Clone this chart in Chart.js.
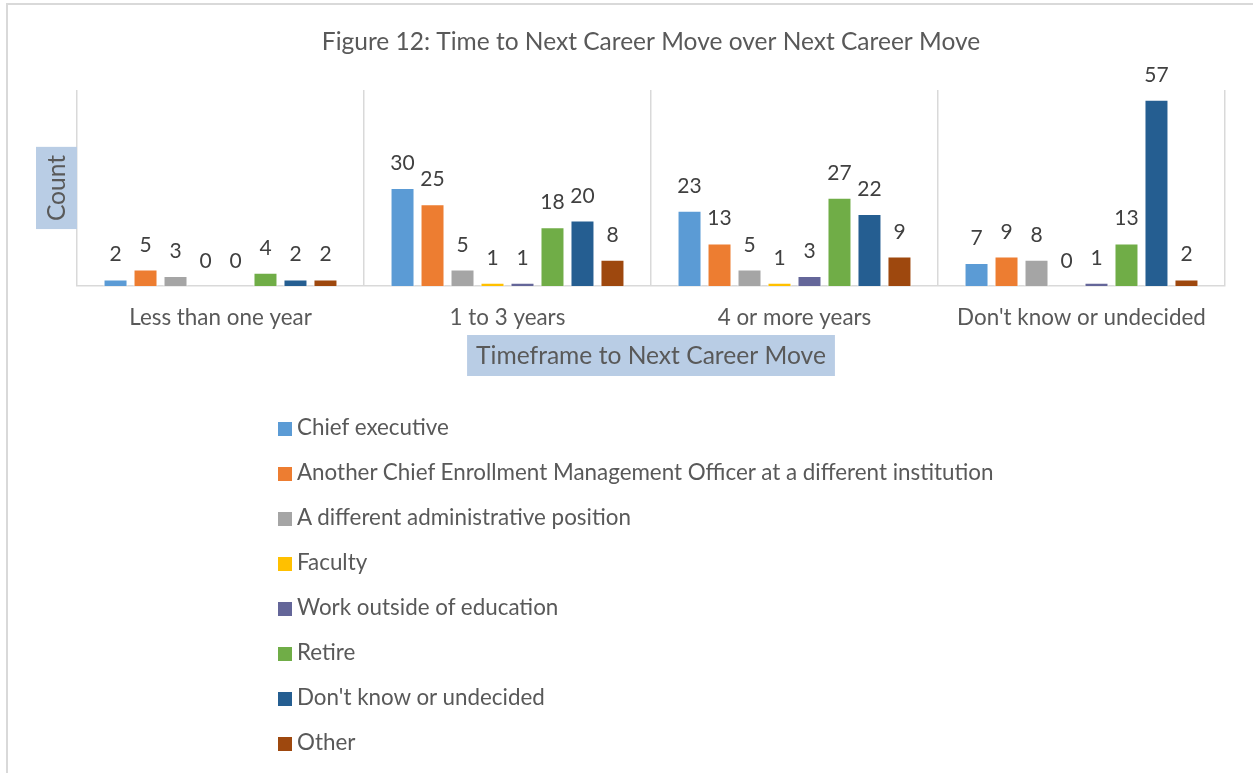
<!DOCTYPE html>
<html>
<head>
<meta charset="utf-8">
<script src="https://cdn.jsdelivr.net/npm/chart.js@4/dist/chart.umd.min.js"></script>
<style>
	html, body { margin: 0; padding: 0; background: #fff; }
	#wrap { position: relative; width: 1253px; height: 773px; overflow: hidden; }
	#frame { position: absolute; left: 6px; top: 3px; width: 1300px; height: 900px; border: 2px solid #d9d9d9; box-sizing: border-box; }
	#chart { position: absolute; left: 0; top: 0; }
	#legend { position: absolute; left: 278px; top: 404px; margin: 0; padding: 0; list-style: none; font-family: Lato, sans-serif; font-size: 22.4px; color: #595959; }
	#legend li { height: 45px; line-height: 45px; white-space: nowrap; }
	#legend span.box { display: inline-block; width: 14px; height: 14px; margin-right: 5px; vertical-align: -1px; }
</style>
</head>
<body>
<div id="wrap">
	<div id="frame"></div>
	<canvas id="chart" width="1253" height="773"></canvas>
	<ul id="legend"></ul>
</div>
<script>
var CATEGORIES = ["Less than one year", "1 to 3 years", "4 or more years", "Don't know or undecided"];

var SERIES_NAMES = [
	"Chief executive",
	"Another Chief Enrollment Management Officer at a different institution",
	"A different administrative position",
	"Faculty",
	"Work outside of education",
	"Retire",
	"Don't know or undecided",
	"Other",
];

var SERIES_COLORS = ["#5B9BD5", "#ED7D31", "#A5A5A5", "#FFC000", "#646699", "#70AD47", "#255E91", "#9E480E"];

// one row per series, one value per category
var CHIEF_EXEC   = [2, 30, 23, 7];
var ANOTHER_CEMO = [5, 25, 13, 9];
var ADMIN        = [3, 5, 5, 8];
var FACULTY      = [0, 1, 1, 0];
var OUTSIDE_EDU  = [0, 1, 3, 1];
var RETIRE       = [4, 18, 27, 13];
var DONT_KNOW    = [2, 20, 22, 57];
var OTHER        = [2, 8, 9, 2];

var SERIES_VALUES = [CHIEF_EXEC, ANOTHER_CEMO, ADMIN, FACULTY, OUTSIDE_EDU, RETIRE, DONT_KNOW, OTHER];

var TITLE = "Figure 12: Time to Next Career Move over Next Career Move";
var X_TITLE = "Timeframe to Next Career Move";
var Y_TITLE = "Count";

var TEXT_COLOR = "#595959";
var FONT = "Lato, sans-serif";
var TITLE_BOX = "#B9CDE5";

// value labels above each bar
var barLabels = {
	id: "barLabels",
	afterDatasetsDraw: function(chart) {
		var ctx = chart.ctx;
		ctx.save();
		ctx.font = "21px " + FONT;
		ctx.fillStyle = "#404040";
		ctx.textAlign = "center";
		ctx.textBaseline = "alphabetic";
		chart.data.datasets.forEach(function(ds, i) {
			chart.getDatasetMeta(i).data.forEach(function(bar, j) {
				ctx.fillText(String(ds.data[j]), bar.x, bar.y - 18);
			});
		});
		ctx.restore();
	}
};

// axis titles on shaded boxes
var axisTitles = {
	id: "axisTitles",
	afterDraw: function(chart) {
		var ctx = chart.ctx;
		var a = chart.chartArea;
		var cx = (a.left + a.right) / 2;
		var cy = (a.top + a.bottom) / 2;
		ctx.save();
		ctx.font = "24.6px " + FONT;
		ctx.textAlign = "center";
		ctx.textBaseline = "middle";

		var w = ctx.measureText(X_TITLE).width + 18;
		ctx.fillStyle = TITLE_BOX;
		ctx.fillRect(cx - w / 2, 335, w, 41);
		ctx.fillStyle = TEXT_COLOR;
		ctx.fillText(X_TITLE, cx, 356);

		var h = ctx.measureText(Y_TITLE).width + 16;
		ctx.fillStyle = TITLE_BOX;
		ctx.fillRect(36, cy - h / 2, 41, h);
		ctx.translate(57, cy);
		ctx.rotate(-Math.PI / 2);
		ctx.fillStyle = TEXT_COLOR;
		ctx.fillText(Y_TITLE, 0, 0);
		ctx.restore();
	}
};

var datasets = [];
for(var i = 0; i < SERIES_NAMES.length; i++) {
	datasets.push({
		label: SERIES_NAMES[i],
		data: SERIES_VALUES[i],
		backgroundColor: SERIES_COLORS[i],
		borderColor: "#ffffff",
		borderWidth: 1,
		categoryPercentage: 0.836,
		barPercentage: 0.8,
	});
}

var chart = new Chart(document.getElementById("chart").getContext("2d"), {
	type: "bar",
	data: { labels: CATEGORIES, datasets: datasets },
	options: {
		responsive: false,
		animation: false,
		layout: { padding: { left: 77, right: 28, top: 0, bottom: 423 } },
		plugins: {
			legend: { display: false },
			tooltip: { enabled: false },
			title: {
				display: true,
				text: TITLE,
				color: TEXT_COLOR,
				font: { family: FONT, size: 24.5, weight: "normal" },
				padding: { top: 27.3, bottom: 33.3 },
			},
		},
		scales: {
			x: {
				grid: { color: "#d9d9d9", lineWidth: 1.5, drawTicks: false, offset: true },
				border: { color: "#d9d9d9", width: 1.5 },
				ticks: { color: TEXT_COLOR, font: { family: FONT, size: 22.4 }, padding: 18.6 },
			},
			y: { display: false, min: 0, max: 60 },
		},
	},
	plugins: [barLabels, axisTitles],
});

// single column legend built from the chart's datasets
var ul = document.getElementById("legend");
chart.data.datasets.forEach(function(ds) {
	var li = document.createElement("li");
	var box = document.createElement("span");
	box.className = "box";
	box.style.background = ds.backgroundColor;
	li.appendChild(box);
	li.appendChild(document.createTextNode(ds.label));
	ul.appendChild(li);
});
</script>
</body>
</html>
